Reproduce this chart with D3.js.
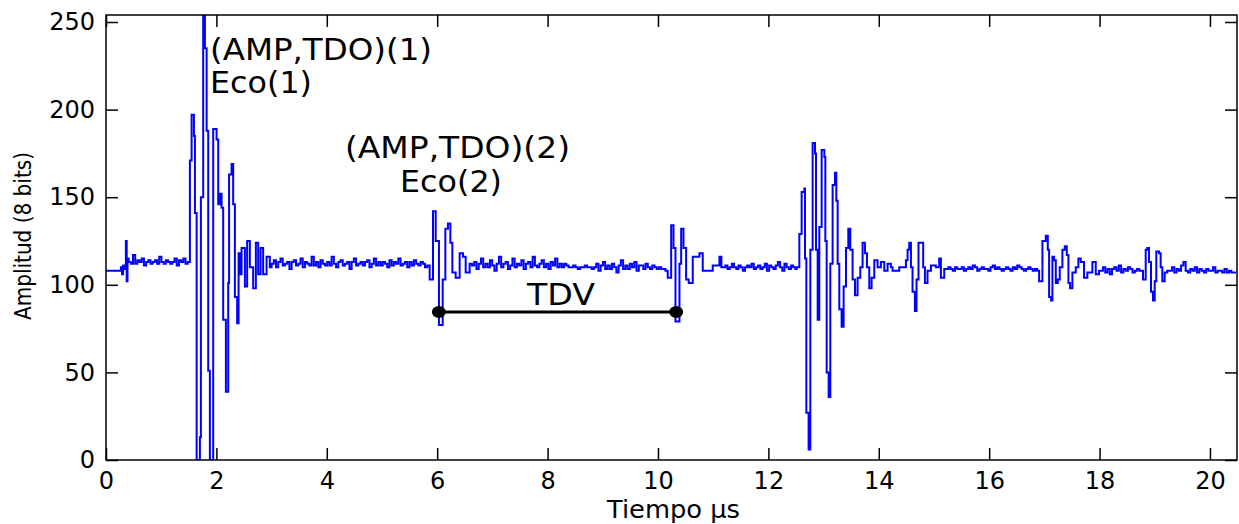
<!DOCTYPE html>
<html>
<head>
<meta charset="utf-8">
<script src="https://cdn.jsdelivr.net/npm/d3@7/dist/d3.min.js"></script>
<style>
  body { margin: 0; background: #fff; }
  svg text { font-family: "DejaVu Sans", sans-serif; fill: #000; }
</style>
</head>
<body>
<script>
(function(){

  //axis ticks and labels
  var xTicks = [0, 2, 4, 6, 8, 10, 12, 14, 16, 18, 20];
  var yTicks = [0, 50, 100, 150, 200, 250];
  var xTitle = "Tiempo \u00b5s";
  var yTitle = "Amplitud (8 bits)";
  var note1 = ["(AMP,TDO)(1)", "Eco(1)"];
  var note2 = ["(AMP,TDO)(2)", "Eco(2)"];
  var tdvLabel = "TDV";

  //TDV marker: start/end time (us) and level
  var tdvSpan = [6.03, 10.33];
  var tdvLevel = 84.5;

  //trace pieces as [time us, amplitude]
  var leadIn = [[0,108],[0.26,108],[0.27,110],[0.29,106],[0.31,111],[0.34,109],[0.36,125],[0.375,102],[0.39,115]];

  var echo1 = [[1.508,113],[1.520,171],[1.551,197],[1.593,185],[1.611,141],[1.642,0],[1.701,13],[1.719,150],
    [1.761,254],[1.792,235],[1.823,188],[1.852,51],[1.882,0],[1.942,189],[2.003,183],[2.033,146],[2.063,152],
    [2.094,144],[2.123,80],[2.172,39],[2.214,101],[2.230,163],[2.275,169],[2.304,146],[2.335,93],[2.376,78],
    [2.402,118],[2.425,106],[2.456,121],[2.516,99],[2.557,125],[2.606,110],[2.666,98],[2.715,124],[2.757,106],
    [2.800,121],[2.847,106],[2.909,116],[2.968,110]];

  var echo2 = [[5.864,103],[5.924,142],[5.973,125],[6.032,77],[6.100,103],[6.148,132],[6.195,135],[6.239,124],
    [6.275,107],[6.335,104],[6.407,118],[6.467,116],[6.516,107],[6.588,112]];

  var echo2b = [[10.136,108],[10.177,104],[10.239,134],[10.281,121],[10.317,79],[10.389,112],[10.420,132],
    [10.462,121],[10.510,103],[10.557,101],[10.630,116],[10.751,118],[10.811,108],[10.992,111],[11.113,116],[11.149,110]];

  var echo3 = [[12.512,110],[12.561,129],[12.603,153],[12.652,155],[12.664,115],[12.688,27],[12.729,6],[12.760,120],
    [12.802,181],[12.845,175],[12.863,120],[12.893,80],[12.923,133],[12.965,177],[13.014,173],[13.032,125],
    [13.056,50],[13.092,36],[13.122,112],[13.164,157],[13.207,164],[13.231,148],[13.255,112],[13.285,86],
    [13.327,76],[13.363,99],[13.406,121],[13.448,132],[13.484,120],[13.526,103],[13.570,94],[13.616,104],
    [13.665,110],[13.707,124],[13.750,118],[13.786,110],[13.828,98],[13.870,104],[13.919,114],[13.979,110],
    [14.039,113],[14.100,108],[14.160,112],[14.220,110]];

  var ring1 = [[14.250,108],[14.371,110],[14.492,114],[14.522,120],[14.552,124],[14.583,110],[14.612,96],
    [14.655,85],[14.684,103],[14.720,124],[14.775,124],[14.805,110],[14.836,101],[14.883,108],[14.945,111],
    [15.035,110],[15.095,115],[15.126,104],[15.186,109]];

  var ring2 = [[16.905,102],[16.965,125],[17.026,128],[17.062,120],[17.086,93],[17.122,91],[17.146,116],
    [17.176,114],[17.207,101],[17.243,103],[17.279,110],[17.327,120],[17.370,122],[17.406,117],[17.436,101],
    [17.466,98],[17.508,107],[17.569,110],[17.616,115],[17.659,113],[17.719,104],[17.779,107],[17.870,113],
    [17.931,106],[17.991,108]];

  var ring3 = [[18.745,108],[18.787,103],[18.836,120],[18.865,121],[18.896,113],[18.932,96],[18.968,91],
    [18.999,102],[19.028,119],[19.077,118],[19.107,110],[19.137,102],[19.180,107],[19.227,108]];

  //noise stretches: time span (us) and the samples spread over it
  var noise1Span = [0.41, 1.48];
  var noise1 = [113,112,117,112,114,113,115,111,113,114,112,113,114,112,116,113,112,114,113,112,113,115,111,114,113,115,112,113];

  var noise2Span = [3.00, 5.82];
  var noise2 = [112,114,110,113,115,111,112,113,109,113,114,111,112,115,110,113,112,111,116,111,113,110,114,112,
    111,113,111,116,112,110,113,114,111,112,113,109,113,115,111,112,113,111,113,114,110,112,115,111,113,111,113,
    112,110,114,111,113,112,115,111,112,113,110,113,111,114,112,111,113,112,110,111];

  var noise3aSpan = [6.63, 8.34];
  var noise3a = [111,113,109,112,115,110,112,110,114,111,108,112,116,110,112,113,109,111,115,110,112,111,114,109,
    112,113,110,116,111,110,112,114,110,112,109,113,111,115,110,112,110,112,111];

  var noise3bSpan = [8.38, 8.80];
  var noise3b = [110,110,111,110,109,110,110,111,110,110,109];

  var noise3cSpan = [8.84, 10.10];
  var noise3c = [110,112,108,111,113,109,111,109,112,110,107,111,114,109,111,109,112,110,113,108,111,111,109,112,
    110,109,111,110,109,110,109,109];

  var noise4Span = [11.18, 12.49];
  var noise4 = [110,111,109,110,112,110,109,111,110,108,110,111,110,112,109,110,111,109,110,112,108,111,110,109,
    111,113,110,108,112,110,109,111,110,109];

  var noise6Span = [15.22, 16.87];
  var noise6 = [109,110,109,108,110,109,109,110,108,109,110,109,111,110,108,109,110,109,109,108,110,111,109,110,
    109,108,109,110,109,108,110,109,111,110,109,108,109,110,109,108,109,108];

  var noise7Span = [18.02, 18.72];
  var noise7 = [108,110,107,109,106,109,110,108,111,107,109,108,110,109,107,108,109,108];

  var noise8Span = [19.27, 20.47];
  var noise8 = [108,110,107,109,108,111,113,108,107,109,108,110,107,109,108,107,109,108,108,110,107,108,108,107,
    109,107,108,107,107,107];

  window.onload = drawChart(); //draw when page loads

  //spread noise samples evenly over their time span
  function spread(span, vals){
    var step = (span[1] - span[0]) / (vals.length - 1);
    return vals.map(function(v, i){ return [span[0] + i * step, v]; });
  };

  function drawChart(){
    var width = 1239,
        height = 524;
    var left = 106, right = 1237, top = 15, bottom = 460;

    var svg = d3.select("body")
      .append("svg")
      .attr("width", width)
      .attr("height", height);

    var x = d3.scaleLinear().domain([0, 20.49]).range([left, right]);
    var y = d3.scaleLinear().domain([0, 254]).range([bottom, top]);

    //join all pieces into one trace
    var trace = [].concat(
      leadIn, spread(noise1Span, noise1), echo1, spread(noise2Span, noise2), echo2,
      spread(noise3aSpan, noise3a), spread(noise3bSpan, noise3b), spread(noise3cSpan, noise3c),
      echo2b, spread(noise4Span, noise4), echo3, ring1, spread(noise6Span, noise6), ring2,
      spread(noise7Span, noise7), ring3, spread(noise8Span, noise8)
    ).sort(function(a, b){ return a[0] - b[0]; });

    svg.append("clipPath")
      .attr("id", "plotClip")
      .append("rect")
      .attr("x", left).attr("y", top)
      .attr("width", right - left).attr("height", bottom - top);

    var line = d3.line()
      .x(function(d){ return x(d[0]); })
      .y(function(d){ return y(d[1]); })
      .curve(d3.curveStepAfter);

    svg.append("path")
      .datum(trace)
      .attr("clip-path", "url(#plotClip)")
      .attr("fill", "none")
      .attr("stroke", "#0000ff")
      .attr("stroke-width", 2)
      .attr("d", line);

    //axes with inward ticks on all four sides
    var xAxis = svg.append("g")
      .attr("transform", "translate(0," + bottom + ")")
      .call(d3.axisBottom(x).tickValues(xTicks).tickSizeInner(-12).tickSizeOuter(0).tickPadding(12));
    var yAxis = svg.append("g")
      .attr("transform", "translate(" + left + ",0)")
      .call(d3.axisLeft(y).tickValues(yTicks).tickSizeInner(-12).tickSizeOuter(0).tickPadding(11));
    var xTop = svg.append("g")
      .attr("transform", "translate(0," + top + ")")
      .call(d3.axisTop(x).tickValues(xTicks).tickSizeInner(-12).tickSizeOuter(0).tickFormat(""));
    var yRight = svg.append("g")
      .attr("transform", "translate(" + right + ",0)")
      .call(d3.axisRight(y).tickValues(yTicks).tickSizeInner(-12).tickSizeOuter(0).tickFormat(""));

    [xAxis, yAxis, xTop, yRight].forEach(function(g){
      g.select(".domain").remove();
      g.selectAll("line").attr("stroke", "#000").attr("stroke-width", 1.5);
      g.selectAll("text").attr("font-size", 24).attr("font-family", "DejaVu Sans").attr("fill", "#000");
    });

    svg.append("rect") //frame
      .attr("x", left).attr("y", top)
      .attr("width", right - left).attr("height", bottom - top)
      .attr("fill", "none")
      .attr("stroke", "#000")
      .attr("stroke-width", 1.5);

    //axis titles
    svg.append("text")
      .attr("x", 607).attr("y", 518)
      .attr("font-size", 24)
      .attr("textLength", 133).attr("lengthAdjust", "spacingAndGlyphs")
      .text(xTitle);

    svg.append("text")
      .attr("transform", "translate(31,320) rotate(-90)")
      .attr("font-size", 23)
      .attr("textLength", 168).attr("lengthAdjust", "spacingAndGlyphs")
      .text(yTitle);

    //echo notes
    addText(note1[0], 210, 60, 222);
    addText(note1[1], 210, 93, 102);
    addText(note2[0], 345, 158, 225);
    addText(note2[1], 400, 192, 102);
    addText(tdvLabel, 527, 305, 68);

    function addText(str, px, py, len){
      svg.append("text")
        .attr("x", px).attr("y", py)
        .attr("font-size", 30)
        .attr("textLength", len).attr("lengthAdjust", "spacingAndGlyphs")
        .text(str);
    };

    //TDV bar with end dots
    svg.append("line")
      .attr("x1", x(tdvSpan[0])).attr("x2", x(tdvSpan[1]))
      .attr("y1", y(tdvLevel)).attr("y2", y(tdvLevel))
      .attr("stroke", "#000")
      .attr("stroke-width", 3);

    svg.selectAll(".tdvDot")
      .data(tdvSpan)
      .enter()
      .append("ellipse")
      .attr("class", "tdvDot")
      .attr("cx", function(d){ return x(d); })
      .attr("cy", y(tdvLevel))
      .attr("rx", 7).attr("ry", 6)
      .attr("fill", "#000");
  };
})();
</script>
</body>
</html>
